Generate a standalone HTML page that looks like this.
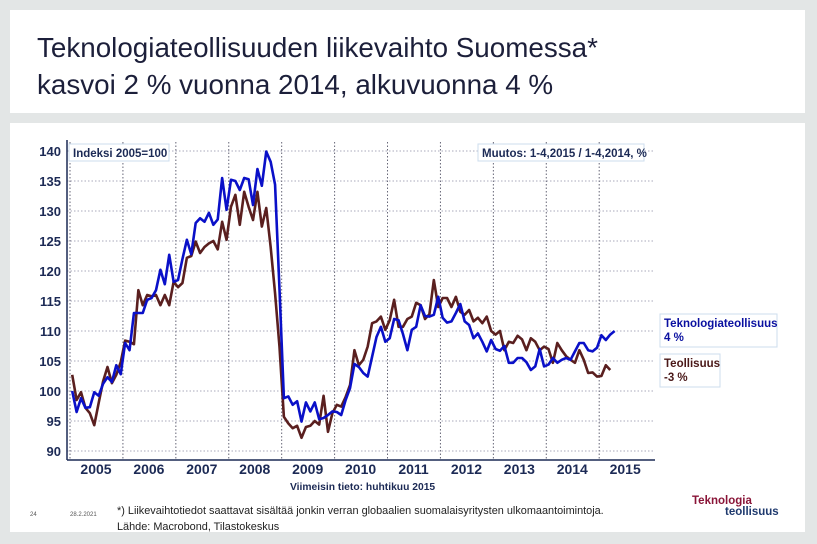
<!DOCTYPE html>
<html><head><meta charset="utf-8"><style>
body{margin:0;width:817px;height:544px;background:#e3e6e6;font-family:"Liberation Sans",Arial,sans-serif;position:relative;overflow:hidden}
.p{position:absolute;background:#fff}
.t{position:absolute;white-space:nowrap}
</style></head><body>
<div class="p" style="left:10px;top:10px;width:795px;height:103px"></div>
<div class="t" style="left:37px;top:29px;font-size:27.8px;line-height:37px;color:#1c1f3a">Teknologiateollisuuden liikevaihto Suomessa*<br>kasvoi 2 % vuonna 2014, alkuvuonna 4 %</div>
<div class="p" style="left:10px;top:123px;width:795px;height:409px"></div>
<svg id="c" width="817" height="544" style="position:absolute;left:0;top:0" font-family="Liberation Sans, Arial, sans-serif"></svg>
<div class="t" style="left:30px;top:512px;font-size:6px;color:#555">24</div>
<div class="t" style="left:70px;top:512px;font-size:6px;color:#555">28.2.2021</div>
<div class="t" style="left:117px;top:503px;font-size:10.9px;line-height:16px;color:#222">*) Liikevaihtotiedot saattavat sisältää jonkin verran globaalien suomalaisyritysten ulkomaantoimintoja.<br>Lähde: Macrobond, Tilastokeskus</div>
<div class="t" style="left:692px;top:495px;font-size:11.5px;font-weight:bold;color:#8a1538">Teknologia</div>
<div class="t" style="left:725px;top:506px;font-size:11.5px;font-weight:bold;color:#1f3a6e">teollisuus</div>
<script>
const years=["2005","2006","2007","2008","2009","2010","2011","2012","2013","2014","2015"];
const yTicks=[90,95,100,105,110,115,120,125,130,135,140];
const techIndex=[100,96.5,98.8,97.2,97.3,99.8,99.2,101.2,102.3,101.5,104.3,102.8,
108,106.8,113,113,113,115.2,115.5,116.8,120.2,117.8,122.7,118.2,
118.5,122,125.2,122.8,128,128.8,128.2,129.7,127.7,128.6,135.5,130.2,
135.2,135,133.5,135.5,135.3,131,137,134.2,139.9,138.2,134.4,117,
98.8,99.1,97.7,98.3,94.9,98.1,96.6,98.1,95.3,95.5,96,96.6,
96.5,96,98.5,100.5,104.5,104,103,102.4,105.7,109,110.7,108.2,108.8,112,111.8,109.5,106.8,110.2,110.7,114.3,112.5,112.4,112.7,115.7,112.2,111.4,111.6,113,114.5,111.6,111,108.8,109.6,108.2,106.6,108.5,107,106.7,107.5,104.7,104.7,105.5,105.5,104.8,103.5,104.1,107,104.1,104.4,105.5,104.7,105.2,105.5,105.2,106.6,108,108,106.8,106.6,107.2,109.3,108.5,109.4,110];
const industryIndex=[102.7,98.5,99.8,97.2,96.3,94.3,98,101.6,104,101.3,102.7,104.8,
108.4,108.2,107.8,116.8,114.3,116,115.8,116,114.3,116,114.3,118.2,
117.3,118,122.2,122.5,124.9,123,124,124.6,125,123.6,128.2,125.2,
130.7,132.7,127.7,133.2,130.7,128.5,133.2,127.4,130.5,124,116.3,107.4,
95.7,94.6,93.8,94.2,92.2,94,94.2,95,94.4,99.2,93.2,96.3,
97.7,97.4,99,101,106.8,104.3,105.2,107.4,111.3,111.6,112.4,110.2,111.8,115.2,110.7,110.7,112,112.4,114.7,114.3,112,112.8,118.5,114,115.5,115.5,114,115.7,113.2,112.7,113.5,111.6,112.2,111.3,112.4,110,109.4,110,106.8,108.2,108,109.2,108.6,106.8,108.8,108.2,106.8,107.4,107,104.7,108,106.8,105.8,105.2,104.7,106.8,105.2,103,103.1,102.4,102.5,104.3,103.5];
const NS="http://www.w3.org/2000/svg",svg=document.getElementById('c');
const X0=70,MW=4.41,Y0=451,YS=6,PL=67,PR=655;
const xM=i=>X0+(i+0.5)*MW, xY=i=>X0+i*12*MW, yV=v=>Y0-(v-90)*YS;
function mk(t,a){const e=document.createElementNS(NS,t);for(const k in a)e.setAttribute(k,a[k]);svg.appendChild(e);return e;}
yTicks.forEach(v=>{
 const l=mk('line',{x1:PL,x2:PR,y1:yV(v),y2:yV(v),stroke:'#aab',"stroke-dasharray":'1.5,2',"stroke-width":1});
 
 
 const t=mk('text',{x:61,y:yV(v)+5,"text-anchor":'end',"font-size":13,"font-weight":'bold',fill:'#1c2a55'});t.textContent=v;
 
 
});
years.forEach((y,i)=>{
 const l=mk('line',{x1:xY(i),x2:xY(i),y1:yV(141.5),y2:460,stroke:'#667',"stroke-dasharray":'1.5,2',"stroke-width":1});
 
 
 const t=mk('text',{x:xY(i)+26,y:474,"text-anchor":'middle',"font-size":14,"font-weight":'bold',fill:'#1c2a55'});t.textContent=y;
 
 
});
let a=mk('line',{x1:PL,x2:PL,y1:140,y2:460,stroke:'#1c2a55',"stroke-width":1.5});


a=mk('line',{x1:PL,x2:PR,y1:460,y2:460,stroke:'#1c2a55',"stroke-width":1.5});


function series(d,c,n){const p=mk('polyline',{points:d.map((v,i)=>xM(i)+','+yV(v)).join(' '),fill:'none',stroke:c,"stroke-width":2.6,"stroke-linejoin":'round'});
 
 }
series(industryIndex,'#5a1f1f','series-teollisuus');
series(techIndex,'#0a10c8','series-teknologiateollisuus');
function box(x,y,w,h,lines,col,n){
 const r=mk('rect',{x:x,y:y,width:w,height:h,fill:'#fff',stroke:'#cde',"stroke-width":1});
 
 
 lines.forEach((s,i)=>{const t=mk('text',{x:x+4,y:y+13+i*14,"font-size":11.5,"font-weight":'bold',fill:col});t.textContent=s;
 
 });
}
box(69,144,100,17,['Indeksi 2005=100'],'#1c2a55','index-label');
box(478,144,166,17,['Muutos: 1-4,2015 / 1-4,2014, %'],'#1c2a55','change-label');
box(660,314,117,33,['Teknologiateollisuus','4 %'],'#0a10a0','legend-teknologiateollisuus');
box(660,354,60,33,['Teollisuus','-3 %'],'#4a1818','legend-teollisuus');
const lt=mk('text',{x:290,y:490,"font-size":10.3,"font-weight":'bold',fill:'#1c2a55'});lt.textContent='Viimeisin tieto: huhtikuu 2015';


</script>
</body></html>
